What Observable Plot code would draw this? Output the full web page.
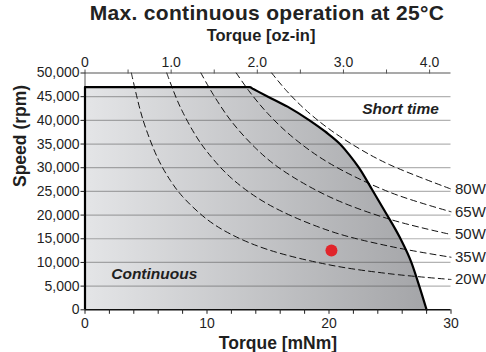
<!DOCTYPE html>
<html><head><meta charset="utf-8">
<script src="https://cdn.jsdelivr.net/npm/d3@7"></script>
<script src="https://cdn.jsdelivr.net/npm/@observablehq/plot@0.6"></script>
<style>
body{margin:0;background:#fff;font-family:"Liberation Sans",Arial,Helvetica,sans-serif;}
#title{width:486px;height:25px;box-sizing:border-box;padding-top:1px;padding-left:48px;text-align:center;font-weight:bold;font-size:21px;line-height:24px;color:#222;white-space:nowrap;letter-spacing:0.3px}
#chart svg{display:block}
</style></head><body>
<div id="title">Max. continuous operation at 25°C</div>
<div id="chart"></div>
<script>
// Continuous operation boundary (torque mNm, speed rpm)
const boundaryTorque = [0, 13.5, 13.8, 15.0, 16.6, 18.4, 19.7, 20.9, 21.7, 22.45, 23.55, 24.65, 25.8, 26.75, 27.4, 28.0];
const boundarySpeed  = [47000, 47000, 46600, 45000, 42900, 40000, 37600, 35000, 32600, 30000, 25300, 20500, 15300, 10000, 5000, 0];

// Iso-power dashed curves
const powerLabels = ["20W", "35W", "50W", "65W", "80W"];
const torque20W = [3.8, 4.5, 5, 6, 7, 8, 10, 12, 15, 20, 25, 30];
const speed20W  = [50000, 42400, 38200, 31800, 27300, 23900, 19100, 15900, 12700, 9500, 7600, 6400];
const torque35W = [6.7, 7.5, 8, 9, 10, 12, 15, 20, 25, 30];
const speed35W  = [50000, 44600, 41800, 37100, 33400, 27800, 22300, 16700, 13400, 11100];
const torque50W = [9.5, 10.5, 12, 14, 16, 20, 25, 30];
const speed50W  = [50000, 45500, 39800, 34100, 29800, 23900, 19100, 15900];
const torque65W = [12.4, 13.5, 15, 17, 20, 25, 30];
const speed65W  = [50000, 46000, 41400, 36500, 31000, 24800, 20700];
const torque80W = [15.3, 16.5, 18, 20, 22.5, 25, 30];
const speed80W  = [50000, 46300, 42400, 38200, 34000, 30600, 25500];

// Operating point
const pointTorque = [20.2];
const pointSpeed = [12500];

// Axes
const bottomTicks = [0,2,4,6,8,10,12,14,16,18,20,22,24,26,28,30];
const bottomLabels = [0, 10, 20, 30];
const speedTicks = [0,5000,10000,15000,20000,25000,30000,35000,40000,45000,50000];
const gridSpeeds = [5000,10000,15000,20000,25000,30000,35000,40000,45000];
const ozTicks = [0,0.5,1,1.5,2,2.5,3,3.5,4];
const ozLabels = ["0","","1.0","","2.0","","3.0","","4.0"];
const MNM_PER_OZIN = 7.0616;

const boundary = boundaryTorque.map((t, i) => ({t, n: boundarySpeed[i]}));
const curveSets = [[torque20W, speed20W], [torque35W, speed35W], [torque50W, speed50W], [torque65W, speed65W], [torque80W, speed80W]];
const curves = curveSets.flatMap(([T, N], k) => T.map((t, i) => ({t, n: N[i], s: powerLabels[k]})));
const curveEnds = curveSets.map(([T, N], k) => ({t: T[T.length-1], n: N[N.length-1], s: powerLabels[k]}));
const point = pointTorque.map((t, i) => ({t, n: pointSpeed[i]}));

const txt = "#1f1f1f";
const plot = Plot.plot({
  width: 486, height: 327,
  marginTop: 47.5, marginBottom: 42.7, marginLeft: 84.5, marginRight: 35.5,
  style: {fontFamily: '"Liberation Sans", Arial, sans-serif', fontSize: "14px", color: txt, background: "white", overflow: "visible"},
  x: {domain: [0, 30]},
  y: {domain: [0, 50000]},
  marks: [
    Plot.areaY(boundary, {x: "t", y: "n", fill: "#c5c6c8", curve: "monotone-x"}),
    Plot.ruleY(gridSpeeds, {stroke: "#4a4a4a", strokeOpacity: 0.42, strokeWidth: 1.2}),
    Plot.ruleX([0], {y1: 0, y2: 50000, stroke: "#555", strokeWidth: 1}),
    Plot.ruleY([50000], {stroke: "#555", strokeWidth: 1.2}),
    Plot.line(curves, {x: "t", y: "n", z: "s", stroke: "#111", strokeWidth: 1, strokeDasharray: "6,4", curve: "catmull-rom"}),
    Plot.line(boundary, {x: "t", y: "n", stroke: "#000", strokeWidth: 2.2, curve: "monotone-x"}),
    Plot.ruleX([0], {y1: 0, y2: boundarySpeed[0], stroke: "#000", strokeWidth: 2.2}),
    Plot.ruleY([0], {stroke: "#111", strokeWidth: 1.6}),
    Plot.dot(point, {x: "t", y: "n", r: 6, fill: "#e1252b", stroke: "none"}),
    Plot.axisX(bottomTicks, {anchor: "bottom", tickSize: 4.5, tickPadding: 4, label: null,
      tickFormat: d => bottomLabels.includes(d) ? String(d) : ""}),
    Plot.axisX(ozTicks.map(v => v * MNM_PER_OZIN), {anchor: "top", tickSize: 4, tickPadding: 2, label: null, stroke: "#555",
      tickFormat: d => { const k = ozTicks.findIndex(v => Math.abs(v * MNM_PER_OZIN - d) < 1e-6); return ozLabels[k]; }}),
    Plot.axisY(speedTicks, {anchor: "left", tickSize: 4, tickPadding: 1.5, label: null, tickFormat: d3.format(",")}),
    Plot.text(curveEnds, {x: "t", y: "n", text: "s", dx: 4, textAnchor: "start", fontSize: 15, fill: txt}),
    Plot.text(["Short time"], {x: 29.0, y: 42300, textAnchor: "end", fontSize: 15.5, fontWeight: "bold", fontStyle: "italic", fill: txt}),
    Plot.text(["Continuous"], {x: 2.15, y: 7560, textAnchor: "start", fontSize: 15.5, fontWeight: "bold", fontStyle: "italic", fill: txt}),
    Plot.text(["Torque [oz-in]"], {frameAnchor: "top", dx: -7, dy: -32.5, lineAnchor: "bottom", fontSize: 16.5, fontWeight: "bold", fill: txt}),
    Plot.text(["Torque [mNm]"], {frameAnchor: "bottom", dx: 10, dy: 38.7, lineAnchor: "bottom", fontSize: 17.5, fontWeight: "bold", fill: txt}),
    Plot.text(["Speed (rpm)"], {frameAnchor: "left", dx: -59.5, dy: -4.4, rotate: -90, lineAnchor: "bottom", fontSize: 17.5, fontWeight: "bold", fill: txt})
  ]
});

// horizontal gradient for the continuous region
const ns = "http://www.w3.org/2000/svg";
const defs = document.createElementNS(ns, "defs");
const grad = document.createElementNS(ns, "linearGradient");
grad.setAttribute("id", "contGrad");
grad.setAttribute("x1", "0"); grad.setAttribute("x2", "1"); grad.setAttribute("y1", "0"); grad.setAttribute("y2", "0");
[["0%", "#e4e5e7"], ["100%", "#a4a5a8"]].forEach(([o, c]) => {
  const s = document.createElementNS(ns, "stop");
  s.setAttribute("offset", o); s.setAttribute("stop-color", c);
  grad.appendChild(s);
});
defs.appendChild(grad);
plot.insertBefore(defs, plot.firstChild);
plot.querySelectorAll('g[aria-label="area"]').forEach(g => {
  g.setAttribute("fill", "url(#contGrad)");
  g.querySelectorAll("path").forEach(p => p.setAttribute("fill", "url(#contGrad)"));
});
document.getElementById("chart").appendChild(plot);
</script>
</body></html>
